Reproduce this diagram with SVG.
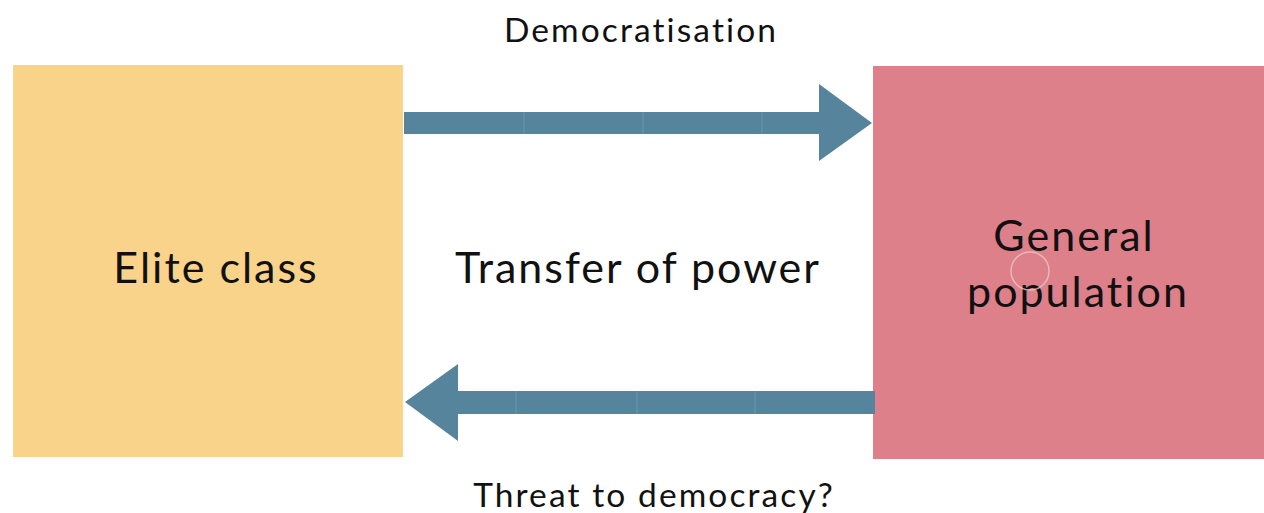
<svg xmlns="http://www.w3.org/2000/svg" width="1264" height="513" viewBox="0 0 1264 513">
  <style>
    text { font-family: Lato, "Open Sans", "Liberation Sans", sans-serif; fill: #111; text-anchor: middle; }
    .big { font-size: 43px; letter-spacing: 2px; }
    .small { font-size: 33.5px; letter-spacing: 2.1px; }
    .arrow { fill: #56849C; }
    .seam { stroke: #6d95aa; stroke-width: 1; }
  </style>
  <rect width="1264" height="513" fill="#ffffff"/>

  <g id="elite-class">
    <rect x="13" y="65" width="390" height="392" fill="#F9D38A"/>
    <text class="big" x="216" y="283">Elite class</text>
  </g>

  <g id="general-population">
    <rect x="873" y="66" width="391" height="393" fill="#DE808A"/>
    <text class="big" x="1074" y="251">General</text>
    <text class="big" x="1078" y="307">population</text>
    <circle cx="1030" cy="271" r="19" fill="none" stroke="#e9c6cc" stroke-width="1.5" opacity="0.8"/>
  </g>

  <g id="connectors">
    <g id="democratisation">
      <path class="arrow" d="M404 112 H819 V84 L872 123 L819 161 V134 H404 Z"/>
      <line class="seam" x1="524" y1="112" x2="524" y2="134"/>
      <line class="seam" x1="643" y1="112" x2="643" y2="134"/>
      <line class="seam" x1="762" y1="112" x2="762" y2="134"/>
      <text class="small" x="641" y="42">Democratisation</text>
    </g>
    <g id="threat">
      <path class="arrow" d="M875 391 H458 V364 L405 402 L458 441 V414 H875 Z"/>
      <line class="seam" x1="516" y1="391" x2="516" y2="414"/>
      <line class="seam" x1="637" y1="391" x2="637" y2="414"/>
      <line class="seam" x1="755" y1="391" x2="755" y2="414"/>
      <text class="small" x="654" y="507">Threat to democracy?</text>
    </g>
    <text class="big" x="638" y="283">Transfer of power</text>
  </g>
</svg>
